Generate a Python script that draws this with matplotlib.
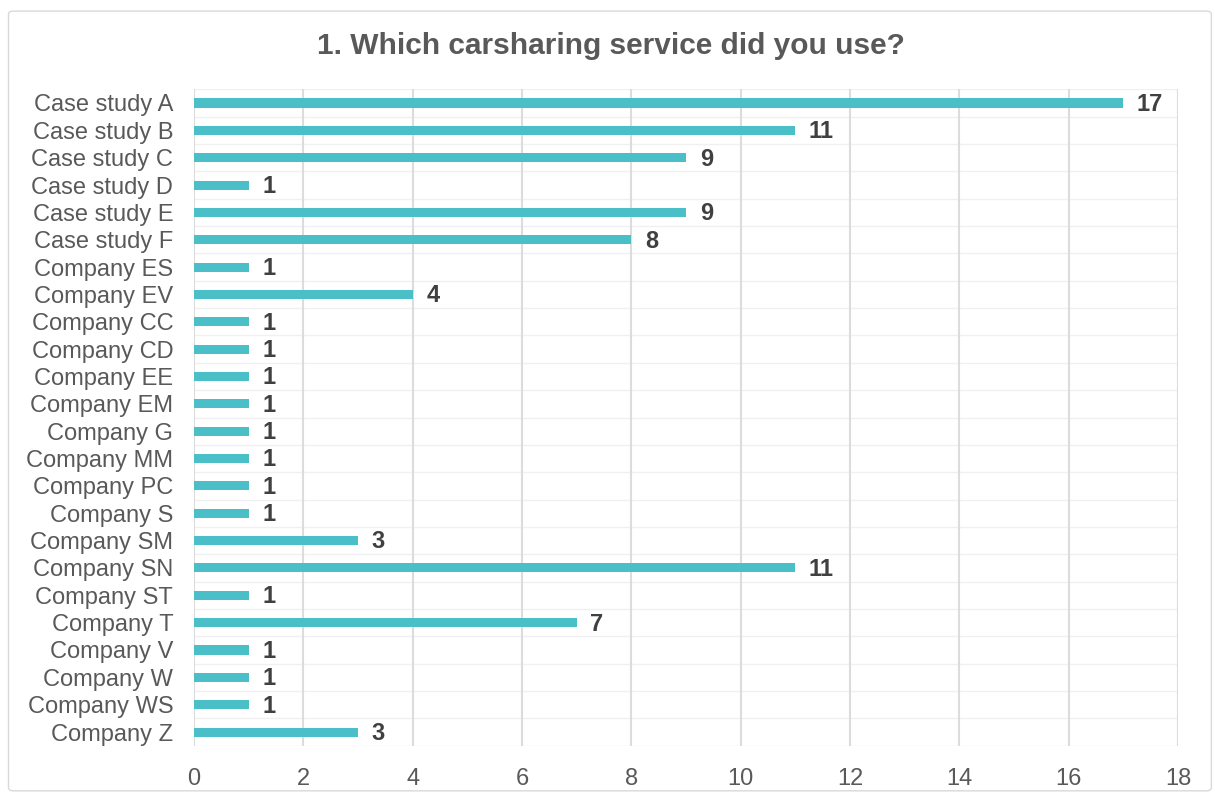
import matplotlib.pyplot as plt
from matplotlib.patches import FancyBboxPatch
import numpy as np

categories = ['Case study A', 'Case study B', 'Case study C', 'Case study D',
              'Case study E', 'Case study F', 'Company ES', 'Company EV',
              'Company CC', 'Company CD', 'Company EE', 'Company EM',
              'Company G', 'Company MM', 'Company PC', 'Company S',
              'Company SM', 'Company SN', 'Company ST', 'Company T',
              'Company V', 'Company W', 'Company WS', 'Company Z']
counts = [17, 11, 9, 1, 9, 8, 1, 4, 1, 1, 1, 1, 1, 1, 1, 1, 3, 11, 1, 7, 1, 1, 1, 3]

plt.rcParams['font.family'] = ['Liberation Sans', 'DejaVu Sans']

fig = plt.figure(figsize=(12.15, 7.94), dpi=100)
ax = fig.add_axes([0.1597, 0.0608, 0.8098, 0.8267])

# outer chart border
fig.patches.append(FancyBboxPatch((0.007, 0.004), 0.99, 0.982, boxstyle='round,pad=0,rounding_size=0.004',
                                  transform=fig.transFigure, fill=False, edgecolor='#d9d9d9', linewidth=1))

y = np.arange(len(categories))
ax.barh(y, counts, height=0.33, color='#4BBFC8', zorder=3)

for yi, c in zip(y, counts):
    ax.text(c + 0.25, yi + 0.05, str(c), va='center', ha='left', fontsize=17,
            fontweight='bold', color='#404040', zorder=4)

ax.set_xlim(0, 18)
ax.set_ylim(len(categories) - 0.5, -0.5)
ax.set_xticks(range(0, 19, 2))
ax.set_yticks(y)
ax.set_yticklabels(categories)
ax.tick_params(axis='both', length=0, labelsize=17, colors='#595959')
ax.tick_params(axis='x', pad=16)
ax.tick_params(axis='y', pad=15)

ax.grid(axis='x', color='#dcdcdc', linewidth=1.5, zorder=0)
for b in np.arange(-0.5, len(categories), 1):
    ax.axhline(b, color='#f0f0f0', linewidth=1, zorder=0)
for s in ax.spines.values():
    s.set_visible(False)

fig.text(0.503, 0.942, '1. Which carsharing service did you use?', ha='center', va='center',
         fontsize=21.5, fontweight='bold', color='#595959')

fig.savefig('out.png', dpi=100)
